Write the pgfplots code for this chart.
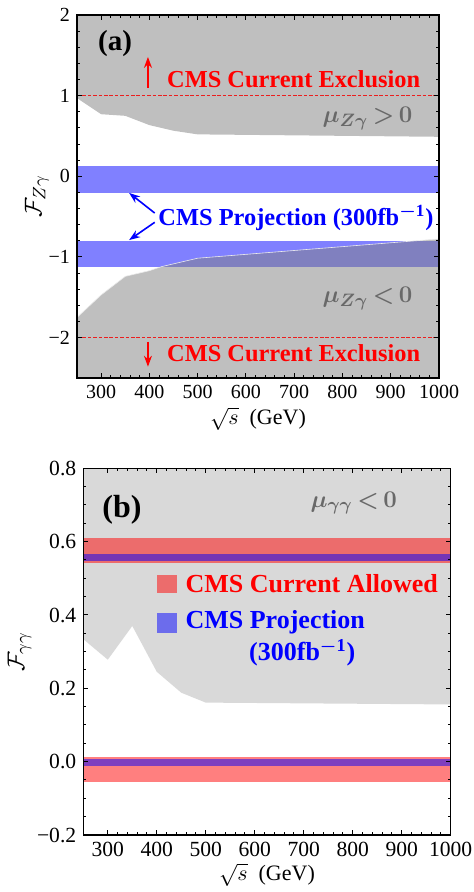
\documentclass[border=0pt]{standalone}
\usepackage{amsmath}
\usepackage{pgfplots}
\pgfplotsset{compat=1.18}
\usepackage{fontspec}
\setmainfont{Liberation Serif}
\usetikzlibrary{arrows.meta}
\definecolor{bandblue}{RGB}{128,128,255}
\definecolor{mugray}{RGB}{105,105,105}
\definecolor{dashred}{RGB}{235,30,30}
\begin{document}
\begin{tikzpicture}
\useasboundingbox (0,0) rectangle (237pt,446pt);
% ---------------- panel (a)
\begin{axis}[
  scale only axis, width=181pt, height=181.5pt,
  at={(38.5pt,257pt)}, anchor=south west,
  xmin=250, xmax=1000, ymin=-2.5, ymax=2,
  xtick={300,400,...,1000}, xticklabels={300,400,500,600,700,800,900,1000},
  ytick={-2,-1,0,1,2}, yticklabels={−2,−1,0,1,2},
  minor x tick num=4, minor y tick num=4,
  tick align=inside, major tick length=2.5pt, minor tick length=1.4pt,
  axis line style={line width=0.7pt}, tick style={line width=0.5pt,black},
  ticklabel style={font=\fontsize{10}{12}\selectfont},
  xlabel={$\sqrt{s}$\ \ (GeV)}, ylabel={$\mathcal{F}_{Z\gamma}$},
  xlabel style={font=\fontsize{11}{12}\selectfont, at={(axis description cs:0.5,0)}, anchor=north, inner sep=0pt, yshift=-14.5pt},
  ylabel style={font=\fontsize{12.5}{14}\selectfont, yshift=-7pt},
  axis on top,
]
\addplot[draw=none, fill=bandblue] coordinates {(250,-0.21) (1000,-0.21) (1000,0.13) (250,0.13)} -- cycle;
\addplot[draw=none, fill=bandblue] coordinates {(250,-1.13) (1000,-1.13) (1000,-0.80) (250,-0.80)} -- cycle;
\addplot[draw=none, fill=black!50, fill opacity=0.5] coordinates {(250,0.97) (300,0.77) (350,0.75) (400,0.635) (450,0.565) (500,0.52) (1000,0.49) (1000,2) (250,2)} -- cycle;
\addplot[draw=none, fill=black!50, fill opacity=0.5] coordinates {(250,-1.75) (300,-1.47) (350,-1.24) (400,-1.17) (425,-1.12) (500,-1.015) (1000,-0.776) (1000,-2.5) (250,-2.5)} -- cycle;
\addplot[white!85!gray, line width=0.3pt] coordinates {(250,-1.75) (300,-1.47) (350,-1.24) (400,-1.17) (425,-1.12) (500,-1.015) (1000,-0.776)};
\addplot[dashred, line width=0.55pt, dash pattern=on 1.8pt off 0.9pt] coordinates {(250,1) (1000,1)};
\addplot[dashred, line width=0.55pt, dash pattern=on 1.8pt off 0.9pt] coordinates {(250,-2) (1000,-2)};
\node[font=\fontsize{14.5}{16}\selectfont\bfseries] at (axis cs:329,1.65) {(a)};
\draw[red, line width=0.8pt, -{Stealth[length=5.5pt,width=4pt]}] (axis cs:397,1.10) -- (axis cs:397,1.48);
\node[red, anchor=west, inner sep=0pt, font=\fontsize{12.2}{14}\selectfont\bfseries] at (axis cs:436,1.21) {CMS Current Exclusion};
\node[mugray, font=\fontsize{12.5}{14}\selectfont\boldmath] at (axis cs:852,0.72) {$\mu_{Z\gamma}\mskip3mu{>}\mskip3mu0$};
\node[blue, anchor=west, inner sep=0pt, font=\fontsize{12.2}{14}\selectfont\bfseries] at (axis cs:418,-0.515) {CMS Projection (300fb$^{\boldsymbol{-}\mathbf{1}}$)};
\draw[blue, line width=0.8pt, -{Stealth[length=5.5pt,width=4pt]}] (axis cs:411,-0.455) -- (axis cs:358,-0.206);
\draw[blue, line width=0.8pt, -{Stealth[length=5.5pt,width=4pt]}] (axis cs:411,-0.57) -- (axis cs:358,-0.79);
\node[mugray, font=\fontsize{12.5}{14}\selectfont\boldmath] at (axis cs:852,-1.51) {$\mu_{Z\gamma}\mskip3mu{<}\mskip3mu0$};
\node[red, anchor=west, inner sep=0pt, font=\fontsize{12.2}{14}\selectfont\bfseries] at (axis cs:436,-2.19) {CMS Current Exclusion};
\draw[red, line width=0.8pt, -{Stealth[length=5.5pt,width=4pt]}] (axis cs:397,-2.05) -- (axis cs:397,-2.36);
\end{axis}
% ---------------- panel (b)
\begin{axis}[
  scale only axis, width=183.7pt, height=183.35pt,
  at={(41.65pt,28.5pt)}, anchor=south west,
  xmin=250, xmax=1000, ymin=-0.2, ymax=0.8,
  xtick={300,400,...,1000}, xticklabels={300,400,500,600,700,800,900,1000},
  ytick={-0.2,0,0.2,0.4,0.6,0.8}, yticklabels={−0.2,0.0,0.2,0.4,0.6,0.8},
  minor x tick num=4, minor y tick num=3,
  tick align=inside, major tick length=2.5pt, minor tick length=1.4pt,
  axis line style={line width=0.7pt}, tick style={line width=0.5pt,black},
  ticklabel style={font=\fontsize{10.8}{12}\selectfont},
  xlabel={$\sqrt{s}$\ \ (GeV)}, ylabel={$\mathcal{F}_{\gamma\gamma}$},
  xlabel style={font=\fontsize{11}{12}\selectfont, at={(axis description cs:0.5,0)}, anchor=north, inner sep=0pt, yshift=-14pt},
  ylabel style={font=\fontsize{12.5}{14}\selectfont, yshift=-4pt},
  axis on top,
]
\addplot[draw=none, fill=black!15] coordinates {(250,0.334) (300,0.278) (350,0.37) (400,0.245) (450,0.188) (500,0.161) (1000,0.156) (1000,0.8) (250,0.8)} -- cycle;
\addplot[draw=none, fill=red, fill opacity=0.5] coordinates {(250,0.543) (1000,0.543) (1000,0.609) (250,0.609)} -- cycle;
\addplot[draw=none, fill=red, fill opacity=0.5] coordinates {(250,-0.0546) (1000,-0.0546) (1000,0.0135) (250,0.0135)} -- cycle;
\addplot[draw=none, fill=blue, fill opacity=0.5] coordinates {(250,0.548) (1000,0.548) (1000,0.567) (250,0.567)} -- cycle;
\addplot[draw=none, fill=blue, fill opacity=0.5] coordinates {(250,-0.0118) (1000,-0.0118) (1000,0.0073) (250,0.0073)} -- cycle;
\addplot[draw=none, fill=red, fill opacity=0.5] coordinates {(400.6,0.459) (441.5,0.459) (441.5,0.509) (400.6,0.509)} -- cycle;
\addplot[draw=none, fill=blue, fill opacity=0.5] coordinates {(400.6,0.350) (441.5,0.350) (441.5,0.405) (400.6,0.405)} -- cycle;
\node[font=\fontsize{16}{18}\selectfont\bfseries] at (axis cs:329,0.686) {(b)};
\node[mugray, font=\fontsize{13}{15}\selectfont\boldmath] at (axis cs:802,0.705) {$\mu_{\gamma\gamma}\mskip3mu{<}\mskip3mu0$};
\node[red, anchor=west, inner sep=0pt, font=\fontsize{13}{15}\selectfont\bfseries] at (axis cs:458,0.4845) {CMS Current Allowed};
\node[blue, anchor=west, inner sep=0pt, font=\fontsize{13}{15}\selectfont\bfseries] at (axis cs:458,0.381) {CMS Projection};
\node[blue, font=\fontsize{13}{15}\selectfont\bfseries] at (axis cs:697,0.296) {(300fb$^{\boldsymbol{-}\mathbf{1}}$)};
\end{axis}
\end{tikzpicture}
\end{document}
